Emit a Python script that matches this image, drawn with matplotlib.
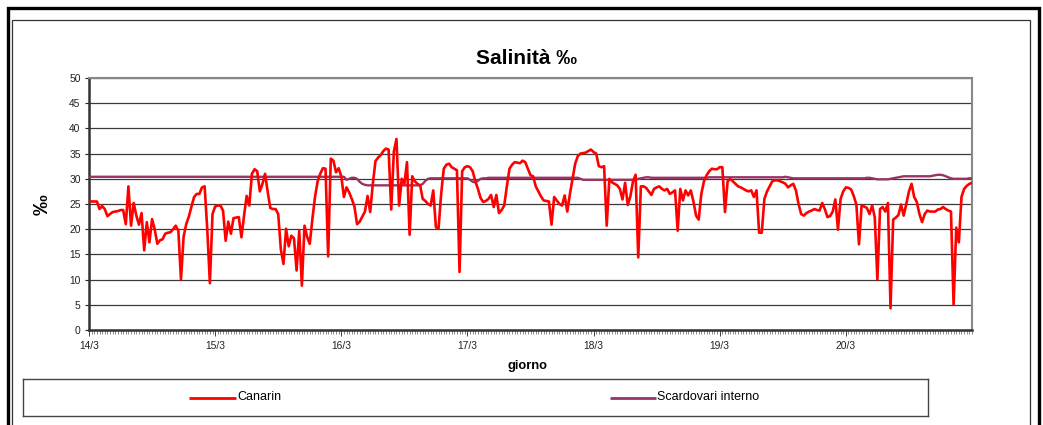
import numpy as np
import matplotlib
matplotlib.use("Agg")
import matplotlib.pyplot as plt
from matplotlib.patches import Rectangle

plt.rcParams['font.family'] = ['Liberation Sans', 'DejaVu Sans']

# ---- data: half-hourly readings, 14/3 00:00 -> 21/3 00:00 ----
day_labels = ["14/3", "15/3", "16/3", "17/3", "18/3", "19/3", "20/3"]
samples_per_day = 48
series_names = ['Canarin', 'Scardovari interno']

canarin_14 = [25.5, 25.5, 25.5, 25.5, 24.0, 24.6, 24.0, 22.6, 23.0, 23.4, 23.5, 23.6,
              23.8, 23.8, 21.0, 28.5, 20.7, 25.2, 22.7, 20.9, 23.2, 15.8, 21.4, 17.4,
              22.0, 20.0, 17.1, 17.8, 18.0, 19.1, 19.3, 19.4, 20.0, 20.7, 19.7, 10.0,
              18.5, 21.0, 22.5, 24.5, 26.4, 27.0, 27.0, 28.3, 28.5, 20.0, 9.3, 23.0]
canarin_15 = [24.5, 24.7, 24.7, 23.7, 17.7, 21.5, 19.1, 22.2, 22.3, 22.4, 18.4, 22.7,
              26.6, 24.7, 31.0, 31.9, 31.5, 27.5, 29.0, 31.0, 27.4, 24.2, 24.0, 24.0,
              23.0, 16.0, 13.1, 20.1, 16.6, 18.7, 18.2, 11.8, 19.7, 8.8, 20.7, 18.5,
              17.1, 22.0, 26.4, 29.5, 31.0, 32.1, 32.0, 14.6, 34.0, 33.6, 31.3, 32.1]
canarin_16 = [30.5, 26.4, 28.3, 27.3, 26.0, 24.5, 21.0, 21.5, 22.5, 23.5, 26.6, 23.4,
              29.0, 33.5, 34.2, 34.7, 35.5, 36.0, 35.8, 23.9, 35.4, 37.9, 24.7, 30.0,
              29.0, 33.3, 18.9, 30.5, 29.5, 29.0, 28.7, 26.0, 25.6, 25.0, 24.7, 27.7,
              20.4, 20.1, 27.0, 32.0, 32.8, 33.0, 32.3, 32.0, 31.7, 11.5, 31.5, 32.3]
canarin_17 = [32.5, 32.3, 31.5, 29.5, 28.0, 26.2, 25.4, 25.6, 26.0, 26.8, 24.4, 26.8,
              23.2, 23.8, 24.7, 28.5, 32.0, 32.8, 33.3, 33.2, 33.1, 33.6, 33.3, 32.0,
              30.7, 30.5, 28.5, 27.5, 26.5, 25.7, 25.6, 25.5, 20.9, 26.4, 25.7, 25.0,
              24.7, 26.7, 23.5, 27.0, 30.0, 33.0, 34.5, 35.0, 35.1, 35.2, 35.5, 35.8]
canarin_18 = [35.3, 35.0, 32.5, 32.3, 32.5, 20.7, 30.0, 29.3, 29.0, 28.7, 28.0, 25.9,
              29.2, 24.8, 26.5, 29.5, 30.8, 14.4, 28.5, 28.5, 28.2, 27.5, 26.8, 28.0,
              28.3, 28.5, 28.0, 27.7, 28.0, 27.0, 27.3, 27.7, 19.7, 28.0, 25.7, 27.7,
              26.7, 27.7, 25.5, 22.7, 21.9, 27.0, 29.5, 30.7, 31.5, 32.0, 31.9, 31.9]
canarin_19 = [32.3, 32.3, 23.4, 29.5, 30.0, 29.5, 29.0, 28.5, 28.3, 28.0, 27.7, 27.5,
              27.7, 26.4, 27.7, 19.3, 19.3, 26.0, 27.5, 28.5, 29.5, 29.7, 29.7, 29.5,
              29.3, 29.0, 28.3, 28.7, 29.0, 27.7, 25.0, 23.0, 22.7, 23.2, 23.5, 23.7,
              24.0, 23.8, 23.7, 25.2, 24.0, 22.4, 22.6, 23.5, 25.9, 19.9, 26.0, 27.5]
canarin_20 = [28.3, 28.2, 27.9, 26.6, 24.9, 17.0, 24.7, 24.5, 24.2, 23.0, 24.7, 22.4,
              10.0, 24.0, 24.4, 23.5, 25.2, 4.3, 21.9, 22.3, 22.8, 24.9, 22.7, 25.0,
              27.5, 29.0, 26.4, 25.4, 23.0, 21.4, 23.0, 23.7, 23.5, 23.5, 23.5, 23.9,
              24.0, 24.4, 24.0, 23.7, 23.5, 5.0, 20.3, 17.4, 26.4, 28.0, 28.6, 29.0]
canarin_end = [29.2]

scard_14 = [30.4] * 48
scard_15 = [30.4] * 48
scard_16 = [30.4, 30.4, 29.8, 30.0, 30.2, 30.2, 30.0, 29.4, 29.0, 28.8, 28.7, 28.7,
            28.7, 28.7, 28.7, 28.7, 28.7, 28.7, 28.7, 28.7, 28.7, 28.7, 28.7, 28.7,
            28.7, 28.7, 28.7, 28.7, 28.7, 28.7, 28.7, 29.0, 29.6, 30.0, 30.1, 30.1,
            30.1, 30.1, 30.1, 30.1, 30.1, 30.1, 30.1, 30.1, 30.1, 30.1, 30.1, 30.1]
scard_17 = [30.1, 29.8, 29.4, 29.3, 29.6, 30.0, 30.1, 30.1, 30.2, 30.2, 30.2, 30.2,
            30.2, 30.2, 30.2, 30.2, 30.2, 30.2, 30.2, 30.2, 30.2, 30.2, 30.2, 30.2,
            30.2, 30.2, 30.2, 30.2, 30.2, 30.2, 30.2, 30.2, 30.2, 30.2, 30.2, 30.2,
            30.2, 30.2, 30.2, 30.2, 30.2, 30.2, 30.2, 30.0, 29.8, 29.8, 29.8, 29.8]
scard_18 = [29.8, 29.8, 29.8, 29.8, 29.8, 29.8, 29.8, 29.8, 29.8, 29.8, 29.8, 29.8,
            29.8, 29.8, 29.8, 29.8, 29.8, 30.0, 30.1, 30.2, 30.3, 30.3, 30.2, 30.2,
            30.2, 30.2, 30.2, 30.2, 30.2, 30.2, 30.2, 30.2, 30.2, 30.2, 30.2, 30.2,
            30.2, 30.2, 30.2, 30.2, 30.2, 30.2, 30.2, 30.2, 30.3, 30.3, 30.3, 30.3]
scard_19 = [30.3, 30.3, 30.3, 30.3, 30.3, 30.3, 30.3, 30.3, 30.3, 30.3, 30.3, 30.3,
            30.3, 30.3, 30.3, 30.3, 30.3, 30.3, 30.3, 30.3, 30.3, 30.3, 30.3, 30.3,
            30.3, 30.4, 30.3, 30.2, 30.1, 30.1, 30.1, 30.1, 30.1, 30.1, 30.1, 30.1,
            30.1, 30.1, 30.1, 30.1, 30.1, 30.1, 30.1, 30.1, 30.1, 30.1, 30.1, 30.1]
scard_20 = [30.1, 30.1, 30.1, 30.1, 30.1, 30.1, 30.1, 30.1, 30.2, 30.2, 30.1, 30.0,
            29.9, 29.9, 29.9, 29.9, 29.9, 30.0, 30.1, 30.2, 30.3, 30.4, 30.5, 30.5,
            30.5, 30.5, 30.5, 30.5, 30.5, 30.5, 30.5, 30.5, 30.5, 30.6, 30.7, 30.8,
            30.8, 30.7, 30.5, 30.3, 30.1, 30.0, 30.0, 30.0, 30.0, 30.0, 30.0, 30.1]
scard_end = [30.1]

canarin = (canarin_14 + canarin_15 + canarin_16 + canarin_17 + canarin_18
           + canarin_19 + canarin_20 + canarin_end)
scardovari = (scard_14 + scard_15 + scard_16 + scard_17 + scard_18
              + scard_19 + scard_20 + scard_end)

hours = np.arange(len(canarin)) * 24.0 / samples_per_day

RED = '#ff0000'
PLUM = '#993366'

W, H = 1043, 425
fig = plt.figure(figsize=(W / 100, H / 100), dpi=100)

# outer frames
fig.patches.append(Rectangle((8 / W, -0.1), (1039 - 8) / W, 1.1 - 8 / H,
                             transform=fig.transFigure, fill=False,
                             edgecolor='black', linewidth=2.4, zorder=0))
fig.patches.append(Rectangle((12 / W, -0.1), (1030 - 12) / W, 1.1 - 20 / H,
                             transform=fig.transFigure, fill=False,
                             edgecolor='#333333', linewidth=0.9, zorder=0))

ax = fig.add_axes([89 / W, 1 - 330 / H, (972 - 89) / W, (330 - 78) / H])

ax.plot(hours, scardovari, color=PLUM, lw=1.7, zorder=3,
        solid_joinstyle='round')
ax.plot(hours, canarin, color=RED, lw=1.9, zorder=4,
        solid_joinstyle='round')

ax.set_xlim(0, 168)
ax.set_ylim(0, 50)
ax.set_yticks(np.arange(0, 51, 5))
ax.set_xticks(np.arange(0, 168, 24))
ax.set_xticklabels(day_labels)
ax.set_xticks(np.arange(0, 168.01, 0.5), minor=True)
ax.yaxis.grid(True, color='#3a3a3a', lw=0.9)
ax.set_axisbelow(True)

for s in ['top', 'right']:
    ax.spines[s].set_color('#888888')
    ax.spines[s].set_linewidth(1.5)
for s in ['left', 'bottom']:
    ax.spines[s].set_color('#333333')
    ax.spines[s].set_linewidth(1.8)

ax.tick_params(axis='y', length=3, width=0.8, labelsize=7.4, pad=3,
               colors='#222222')
ax.tick_params(axis='x', which='major', length=4, width=0.6, labelsize=7.4,
               pad=4, colors='#222222')
ax.tick_params(axis='x', which='minor', length=3, width=0.4, colors='#333333')

fig.text(527 / W, 1 - 58 / H, 'Salinità ‰', ha='center', va='center',
         fontsize=15, fontweight='bold')
fig.text(42 / W, 1 - 205 / H, '‰', ha='center', va='center', rotation=90,
         fontsize=15, fontweight='bold')
fig.text(527 / W, 1 - 366 / H, 'giorno', ha='center', va='center',
         fontsize=9.3, fontweight='bold')

# legend box (drawn manually to match the Excel layout)
lax = fig.add_axes([23 / W, 1 - 416 / H, (928 - 23) / W, (416 - 379) / H])
lax.set_xlim(23, 928)
lax.set_ylim(0, 1)
lax.set_xticks([])
lax.set_yticks([])
for s in lax.spines.values():
    s.set_color('#444444')
    s.set_linewidth(1.0)
for (x0, x1), col, name in zip([(189, 236), (610, 656)], [RED, PLUM], series_names):
    lax.plot([x0, x1], [0.5, 0.5], color=col, lw=2, solid_capstyle='butt')
    lax.text(x1 + 1, 0.5, name, ha='left', va='center', fontsize=9)

fig.savefig('out.png', dpi=100)
